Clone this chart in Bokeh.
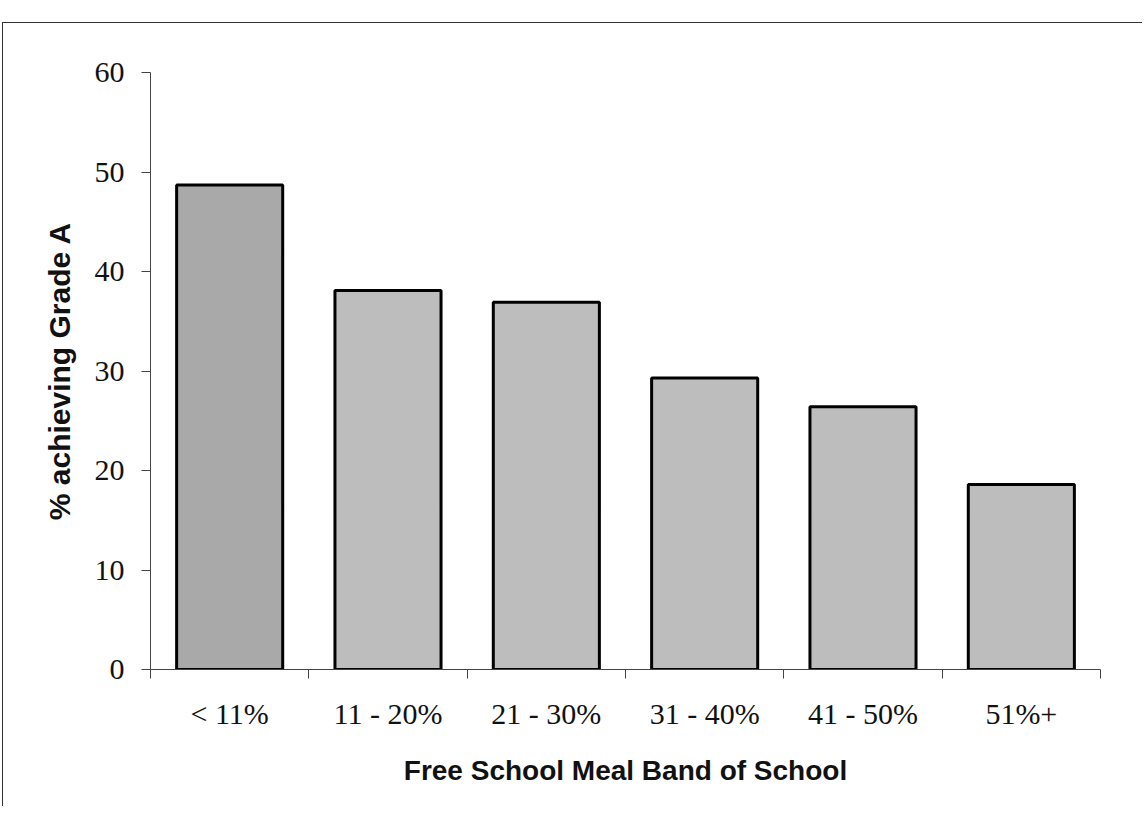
from bokeh.plotting import figure
from bokeh.models import Range1d, FixedTicker, LinearAxis
from bokeh.embed import file_html
from bokeh.resources import INLINE

categories = ["< 11%", "11 - 20%", "21 - 30%", "31 - 40%", "41 - 50%", "51%+"]
values = [48.7, 38.1, 36.9, 29.3, 26.4, 18.6]
bar_colors = ["#a9a9a9", "#bdbdbd", "#bdbdbd", "#bdbdbd", "#bdbdbd", "#bdbdbd"]
y_ticks = [0, 10, 20, 30, 40, 50, 60]

xs = [i + 1 for i in range(len(categories))]
bounds = [i + 0.5 for i in range(len(categories) + 1)]

p = figure(width=1140, height=784, output_backend="svg", toolbar_location=None,
           x_range=Range1d(0.5, len(categories) + 0.5), y_range=Range1d(0, 60),
           x_axis_type=None, y_axis_type=None,
           min_border_left=147, min_border_right=43, min_border_top=49, min_border_bottom=138)
p.styles = {"border-top": "1.5px solid #333", "border-left": "1.5px solid #333",
            "margin-top": "22px", "margin-left": "2px"}
p.outline_line_color = None
p.xgrid.visible = False
p.ygrid.visible = False

p.vbar(x=xs, top=values, width=0.67, fill_color=bar_colors, line_color="black", line_width=3)

xaxis = LinearAxis(ticker=FixedTicker(ticks=xs, minor_ticks=bounds))
xaxis.major_label_overrides = {x: c for x, c in zip(xs, categories)}
xaxis.major_tick_out = 0
xaxis.major_tick_in = 0
xaxis.minor_tick_out = 9
xaxis.minor_tick_in = 0
xaxis.axis_line_color = "#444"
xaxis.minor_tick_line_color = "#444"
xaxis.major_label_text_font = "Liberation Serif"
xaxis.major_label_text_font_size = "30px"
xaxis.major_label_text_color = "#111"
xaxis.major_label_standoff = 18
xaxis.axis_label = "Free School Meal Band of School"
xaxis.axis_label_text_font = "Liberation Sans"
xaxis.axis_label_text_font_style = "bold"
xaxis.axis_label_text_font_size = "28px"
xaxis.axis_label_text_color = "#111"
xaxis.axis_label_standoff = 22
p.add_layout(xaxis, "below")

yaxis = LinearAxis(ticker=FixedTicker(ticks=y_ticks))
yaxis.major_tick_out = 9
yaxis.major_tick_in = 0
yaxis.minor_tick_line_color = None
yaxis.axis_line_color = "#444"
yaxis.major_tick_line_color = "#444"
yaxis.major_label_text_font = "Liberation Serif"
yaxis.major_label_text_font_size = "30px"
yaxis.major_label_text_color = "#111"
yaxis.major_label_standoff = 17
yaxis.axis_label = "% achieving Grade A"
yaxis.axis_label_text_font = "Liberation Sans"
yaxis.axis_label_text_font_style = "bold"
yaxis.axis_label_text_font_size = "30px"
yaxis.axis_label_text_color = "#111"
yaxis.axis_label_standoff = 16
p.add_layout(yaxis, "left")

open("out.html", "w").write(file_html(p, INLINE))
